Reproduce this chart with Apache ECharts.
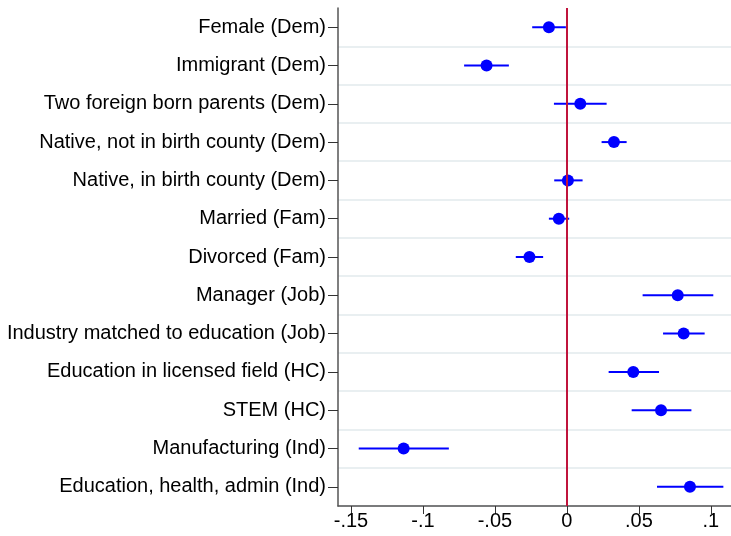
<!DOCTYPE html>
<html><head><meta charset="utf-8">
<script src="https://cdn.jsdelivr.net/npm/echarts@6/dist/echarts.min.js"></script>
<style>html,body{margin:0;padding:0;background:#fff}#c{width:731px;height:536px}</style>
</head><body><div id="c"></div>
<script>
const categories = [
  "Female (Dem)",
  "Immigrant (Dem)",
  "Two foreign born parents (Dem)",
  "Native, not in birth county (Dem)",
  "Native, in birth county (Dem)",
  "Married (Fam)",
  "Divorced (Fam)",
  "Manager (Job)",
  "Industry matched to education (Job)",
  "Education in licensed field (HC)",
  "STEM (HC)",
  "Manufacturing (Ind)",
  "Education, health, admin (Ind)"
];
const estimates = [-0.0125, -0.0558, 0.0093, 0.0327, 0.0007, -0.0056, -0.0260, 0.0770, 0.0811, 0.0461, 0.0654, -0.1134, 0.0855];
const ciLow  = [-0.0241, -0.0714, -0.0090, 0.0241, -0.0088, -0.0125, -0.0355, 0.0526, 0.0668, 0.0290, 0.0450, -0.1446, 0.0626];
const ciHigh = [-0.0007, -0.0403, 0.0276, 0.0415, 0.0109, 0.0016, -0.0165, 0.1017, 0.0957, 0.0640, 0.0865, -0.0820, 0.1087];
const xTicks = [-0.15, -0.1, -0.05, 0, 0.05, 0.1];

const fmt = v => {
  if (Math.abs(v) < 1e-9) return "0";
  let s = String(Math.round(v * 100) / 100);
  return s.replace(/^(-?)0\./, "$1.");
};

const chart = echarts.init(document.getElementById('c'));
chart.setOption({
  animation: false,
  grid: { left: 338, right: 0, top: 8, bottom: 30, containLabel: false },
  xAxis: {
    type: 'value', min: -0.159, max: 0.114,
    axisLine: { show: true, onZero: false, lineStyle: { color: '#555', width: 1.5 } },
    axisTick: { show: true, length: 8, customValues: xTicks, lineStyle: { color: '#333', width: 1 } },
    axisLabel: { customValues: xTicks, formatter: fmt, fontSize: 20, color: '#000', fontFamily: 'Liberation Sans', margin: 5 },
    splitLine: { show: false }
  },
  yAxis: {
    type: 'category', data: categories, inverse: true,
    axisLine: { show: true, onZero: false, lineStyle: { color: '#555', width: 1.5 } },
    axisTick: { show: true, alignWithLabel: true, length: 10, lineStyle: { color: '#333', width: 1 } },
    axisLabel: { fontSize: 20, color: '#000', fontFamily: 'Liberation Sans', margin: 12 },
    splitLine: { show: true, interval: function (i) { return i !== 0; }, lineStyle: { color: '#e9eff1', width: 2 } }
  },
  series: [
    {
      type: 'custom',
      data: categories.map((c, i) => [ciLow[i], ciHigh[i], i]),
      encode: { x: [0, 1], y: 2 },
      renderItem: (params, api) => {
        const p1 = api.coord([api.value(0), api.value(2)]);
        const p2 = api.coord([api.value(1), api.value(2)]);
        return { type: 'line', shape: { x1: p1[0], y1: p1[1], x2: p2[0], y2: p2[1] },
                 style: { stroke: '#0000ff', lineWidth: 2 } };
      },
      z: 3
    },
    {
      type: 'scatter',
      data: categories.map((c, i) => [estimates[i], i]),
      symbol: 'circle', symbolSize: 12,
      itemStyle: { color: '#0000ff', opacity: 1 },
      z: 4,
      markLine: {
        silent: true, symbol: 'none', label: { show: false },
        lineStyle: { color: '#c0143c', width: 2, type: 'solid' },
        data: [{ xAxis: 0 }]
      }
    }
  ]
});
</script></body></html>
